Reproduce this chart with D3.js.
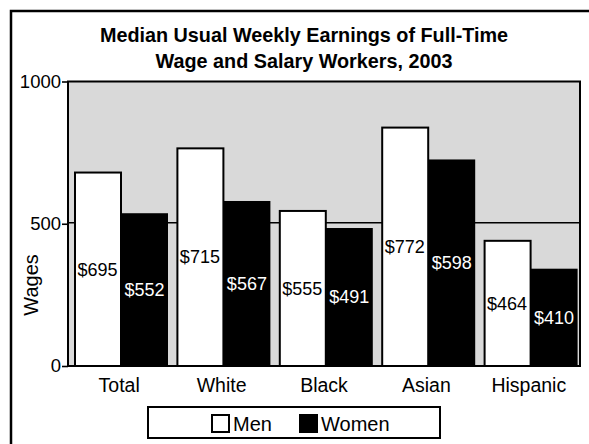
<!DOCTYPE html>
<html>
<head>
<meta charset="utf-8">
<script src="https://cdn.jsdelivr.net/npm/d3@7/dist/d3.min.js"></script>
<style>
  body { margin: 0; background: #fff; }
  svg { display: block; font-family: "Liberation Sans", Arial, Helvetica, sans-serif; }
</style>
</head>
<body>
<svg id="chart" width="589" height="444"></svg>
<script>
// categories and series
const categories = ["Total", "White", "Black", "Asian", "Hispanic"];
const series = ["Men", "Women"];

// bar heights as they are drawn in the picture
const menWages = [680, 765, 545, 838, 440];
const womenWages = [537, 580, 485, 726, 342];

// the dollar labels printed on the bars
const menLabels = ["$695", "$715", "$555", "$772", "$464"];
const womenLabels = ["$552", "$567", "$491", "$598", "$410"];

const yTicks = [0, 500, 1000];
const titleLines = ["Median Usual Weekly Earnings of Full-Time", "Wage and Salary Workers, 2003"];

const svg = d3.select("#chart");

//plot box
const plotLeft = 68, plotRight = 580, plotTop = 81.5, plotBottom = 366;

const y = d3.scaleLinear().domain([0, 1000]).range([plotBottom, plotTop]);
const x0 = d3.scaleBand().domain(categories).range([plotLeft, plotRight]);
const x1 = d3.scaleBand().domain(series).range([6, 100]);

// outer frame, runs off the right and bottom of the page
svg.append("rect")
    .attr("x", 11).attr("y", 11)
    .attr("width", 640).attr("height", 500)
    .attr("fill", "none").attr("stroke", "#000").attr("stroke-width", 2.5);

// title
svg.append("g").selectAll("text")
    .data(titleLines)
    .join("text")
    .attr("x", 304)
    .attr("y", (d, i) => 42 + i * 26)
    .attr("text-anchor", "middle")
    .attr("font-size", 19.8)
    .attr("font-weight", "bold")
    .text(d => d);

// grey plot background
svg.append("rect")
    .attr("x", plotLeft).attr("y", plotTop)
    .attr("width", plotRight - plotLeft).attr("height", plotBottom - plotTop)
    .attr("fill", "#d9d9d9");

// 500 gridline behind the bars
svg.append("line")
    .attr("x1", plotLeft).attr("x2", plotRight)
    .attr("y1", y(500) - 1).attr("y2", y(500) - 1)
    .attr("stroke", "#000").attr("stroke-width", 1.6);

// y axis (ticks + labels)
const yAxis = svg.append("g")
    .attr("transform", `translate(${plotLeft},0)`)
    .call(d3.axisLeft(y).tickValues(yTicks).tickSize(6).tickPadding(1).tickFormat(d3.format("d")));
yAxis.select(".domain").remove();
yAxis.selectAll(".tick line").attr("stroke-width", 1.6);
yAxis.selectAll(".tick text")
    .attr("font-size", 18.5)
    .attr("font-family", "inherit")
    .attr("fill", "#000");

// bars
const groups = svg.append("g").selectAll("g")
    .data(categories)
    .join("g")
    .attr("transform", d => `translate(${x0(d)},0)`);

groups.append("rect")
    .attr("x", x1("Men") + 1)
    .attr("y", (d, i) => y(menWages[i]))
    .attr("width", x1.bandwidth() - 1)
    .attr("height", (d, i) => plotBottom - y(menWages[i]))
    .attr("fill", "#fff")
    .attr("stroke", "#000")
    .attr("stroke-width", 2);

groups.append("rect")
    .attr("x", x1("Women"))
    .attr("y", (d, i) => y(womenWages[i]))
    .attr("width", x1.bandwidth())
    .attr("height", (d, i) => plotBottom - y(womenWages[i]))
    .attr("fill", "#000");

// value labels, middle of each bar
groups.append("text")
    .attr("x", x1("Men") + x1.bandwidth() / 2)
    .attr("y", (d, i) => (y(menWages[i]) + plotBottom) / 2)
    .attr("dy", "0.35em")
    .attr("text-anchor", "middle")
    .attr("font-size", 18)
    .attr("fill", "#000")
    .text((d, i) => menLabels[i]);

groups.append("text")
    .attr("x", x1("Women") + x1.bandwidth() / 2)
    .attr("y", (d, i) => (y(womenWages[i]) + plotBottom) / 2)
    .attr("dy", "0.35em")
    .attr("text-anchor", "middle")
    .attr("font-size", 18)
    .attr("fill", "#fff")
    .text((d, i) => womenLabels[i]);

// plot border on top
svg.append("rect")
    .attr("x", plotLeft).attr("y", plotTop)
    .attr("width", plotRight - plotLeft).attr("height", plotBottom - plotTop)
    .attr("fill", "none").attr("stroke", "#000").attr("stroke-width", 2);

// category names, under each group
const xAxis = svg.append("g")
    .attr("transform", `translate(0,${plotBottom})`)
    .call(d3.axisBottom(x0).tickSize(0).tickPadding(12));
xAxis.select(".domain").remove();
xAxis.selectAll(".tick text")
    .attr("font-size", 19.5)
    .attr("font-family", "inherit")
    .attr("fill", "#000");

// y axis title
svg.append("text")
    .attr("transform", "translate(38,285) rotate(-90)")
    .attr("text-anchor", "middle")
    .attr("font-size", 20)
    .text("Wages");

// legend
const legend = svg.append("g");
legend.append("rect")
    .attr("x", 148).attr("y", 407)
    .attr("width", 292).attr("height", 31)
    .attr("fill", "#fff").attr("stroke", "#000").attr("stroke-width", 2);

const legendX = d3.scaleOrdinal().domain(series).range([211, 299]);
const items = legend.selectAll("g.item")
    .data(series)
    .join("g")
    .attr("class", "item")
    .attr("transform", d => `translate(${legendX(d)},414)`);
items.append("rect")
    .attr("x", 1).attr("y", 1)
    .attr("width", 17).attr("height", 17)
    .attr("fill", d => d === "Men" ? "#fff" : "#000")
    .attr("stroke", "#000").attr("stroke-width", 2);
items.append("text")
    .attr("x", 22).attr("y", 10)
    .attr("dy", "0.35em")
    .attr("font-size", 20)
    .text(d => d);
</script>
</body>
</html>
